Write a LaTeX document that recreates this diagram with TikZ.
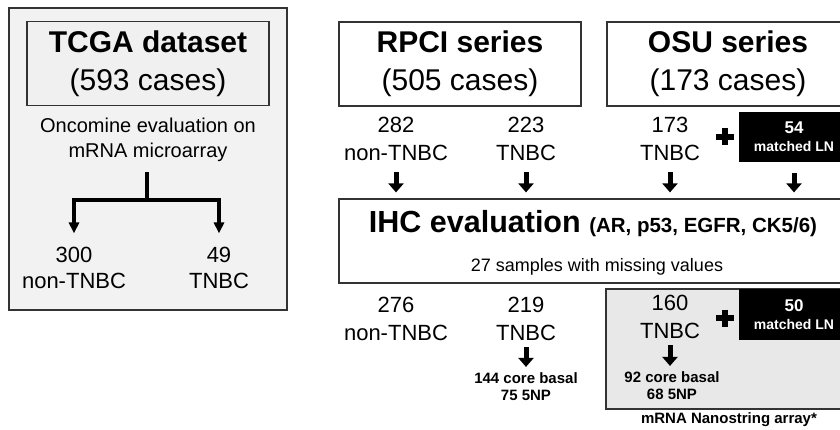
\documentclass[tikz,border=0pt]{standalone}
\usepackage{fontspec}
\setmainfont{Liberation Sans}
\usetikzlibrary{arrows.meta}
\begin{document}
\begin{tikzpicture}[x=1pt, y=-1pt,
    box/.style={draw=black!80, line width=1.2pt, inner sep=0pt, align=center},
    head/.style={box, minimum width=242pt, minimum height=84pt, font=\fontsize{30}{38}\selectfont},
    count/.style={anchor=base, inner sep=0pt, align=center, font=\fontsize{22}{28}\selectfont},
    small/.style={anchor=base, inner sep=0pt, align=center, font=\bfseries\fontsize{15}{17}\selectfont},
    lnbox/.style={fill=black, text=white, inner sep=0pt, align=center, minimum width=110pt, font=\bfseries\fontsize{14}{18}\selectfont},
    blk/.style={line width=5pt, -{Triangle[width=15pt,length=9pt]}},
    fork/.style={line width=3.5pt},
    plus/.style={line width=6pt}]
  \clip (0,0) rectangle (840,430);

  % TCGA
  \node[box, fill=black!5, minimum width=278pt, minimum height=302pt] (panel) at (148,159) {};
  \node[head, fill=black!6] (tcga) at (148,63.5) {\textbf{TCGA dataset}\\(593 cases)};
  \node[anchor=base, inner sep=0pt, align=center, font=\fontsize{20}{25}\selectfont] (oncomine) at (148,158) {Oncomine evaluation on\\mRNA microarray};
  \node[anchor=base, inner sep=0pt, align=center, font=\fontsize{22}{26}\selectfont] (n300) at (74,288) {300\\non-TNBC};
  \node[anchor=base, inner sep=0pt, align=center, font=\fontsize{22}{26}\selectfont] (n49) at (219,288) {49\\TNBC};
  \coordinate (split) at (147,200);
  \draw[fork, shorten <=10pt] (oncomine.south -| split) -- (split);
  \draw[fork, -{Triangle[width=10pt,length=11pt]}, shorten >=13pt] (split) -| (n300.north);
  \draw[fork, -{Triangle[width=10pt,length=11pt]}, shorten >=13pt] (split) -| (n49.north);

  % RPCI and OSU
  \node[head] (rpci) at (460,64) {\textbf{RPCI series}\\(505 cases)};
  \node[head] (osu) at (728,64) {\textbf{OSU series}\\(173 cases)};
  \node[count] (n282) at (396,161) {282\\non-TNBC};
  \node[count] (n223) at (526,161) {223\\TNBC};
  \node[count] (n173) at (670,161) {173\\TNBC};
  \draw[plus] (725,137) ++(-9,0) -- ++(18,0) (725,137) ++(0,-8.5) -- ++(0,17);
  \node[lnbox, minimum height=50pt] (ln54) at (794,137) {{\fontsize{17}{18}\selectfont 54}\\matched LN};

  \node[box, minimum width=510pt, minimum height=84pt] (ihc) at (594,241) {};
  \node[anchor=base, inner sep=0pt, font=\bfseries\fontsize{30.5}{36}\selectfont] (ihctitle) at (593,233) {IHC evaluation {\fontsize{20.5}{24}\selectfont (AR, p53, EGFR, CK5/6)}};
  \node[anchor=base, inner sep=0pt, font=\fontsize{18}{22}\selectfont] (missing) at (597,272) {27 samples with missing values};
  \foreach \n in {n282,n223,n173,ln54}
    \draw[blk, shorten <=11pt, shorten >=6pt] (\n.south) -- (\n.south |- ihc.north);

  % after IHC
  \node[box, fill=black!9, minimum width=243pt, minimum height=120pt] (nano) at (727.5,349) {};
  \node[count] (n276) at (396,340) {276\\non-TNBC};
  \node[count] (n219) at (526,340) {219\\TNBC};
  \node[count] (n160) at (670,338) {160\\TNBC};
  \draw[plus] (725,318) ++(-9,0) -- ++(18,0) (725,318) ++(0,-8.5) -- ++(0,17);
  \node[lnbox, minimum height=51pt] (ln50) at (794,314.5) {{\fontsize{17}{18}\selectfont 50}\\matched LN};
  \node[small] (basal219) at (526,400) {144 core basal\\75 5NP};
  \node[small] (basal160) at (672,399) {92 core basal\\68 5NP};
  \node[small] (nanolabel) at (729,423) {mRNA Nanostring array*};
  \draw[blk, shorten <=7pt, shorten >=5pt] (n219.south) -- (basal219.north);
  \draw[blk, shorten <=7pt, shorten >=5pt] (n160.south) -- (n160.south |- basal160.north);
\end{tikzpicture}
\end{document}
